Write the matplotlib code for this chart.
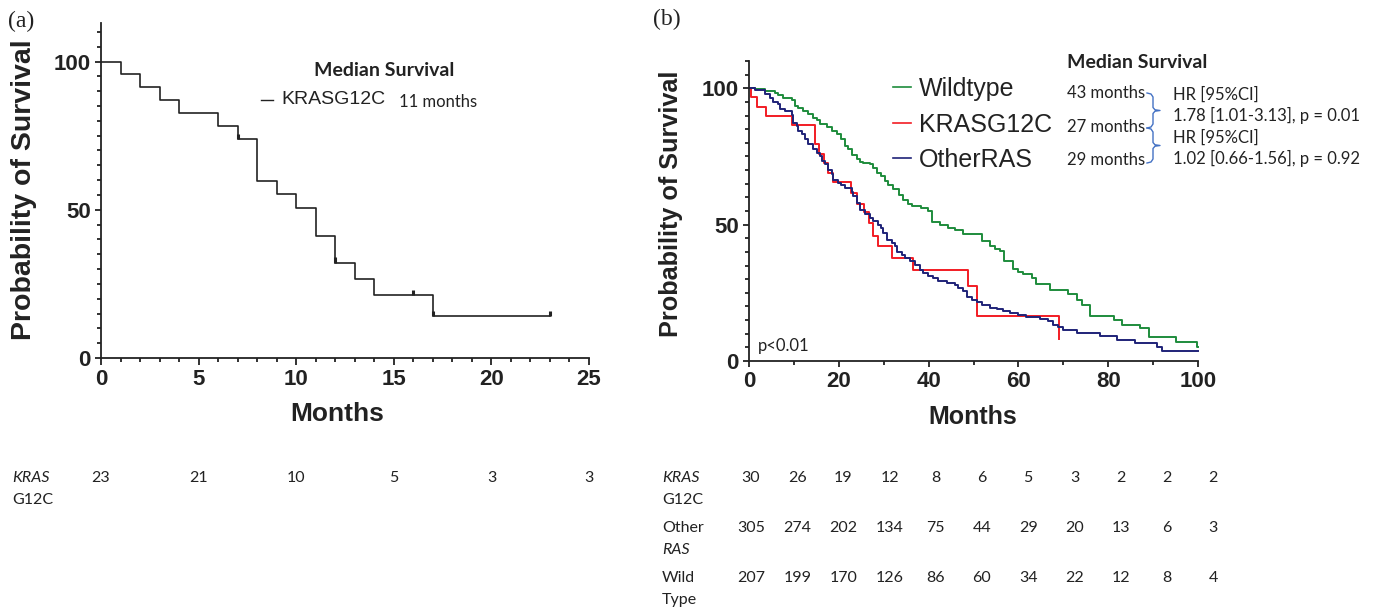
import numpy as np
import matplotlib
matplotlib.use("Agg")
import matplotlib.pyplot as plt
from matplotlib.lines import Line2D
from matplotlib.ticker import MultipleLocator

# ---- data ----
# panel (a): KRAS G12C only (time in months, survival % after the drop)
a_times = [0, 1, 2, 3, 4, 6, 7, 8, 9, 10, 11, 12, 13, 14, 17, 23]
a_surv = [100, 95.7, 91.3, 87.0, 82.6, 78.3, 73.9, 59.8, 55.2, 50.6, 41.3, 32.2, 26.7, 21.3, 14.2, 14.2]
a_censored = [7, 12, 16, 17, 23]
a_risk_times = [0, 5, 10, 15, 20, 25]
a_risk_g12c = [23, 21, 10, 5, 3, 3]

# panel (b)
wt_times = [0, 1.3, 3.6, 5.8, 6.5, 7.6, 9.5, 10.2, 11.0, 12.1, 13.2, 14.3, 15.1, 15.8, 17.3,
            18.4, 19.5, 20.6, 21.4, 22.1, 22.9, 24.0, 24.7, 25.5, 27.0, 27.7, 28.4, 29.5,
            30.3, 31.0, 32.1, 33.3, 34.4, 35.5, 36.2, 38.4, 39.9, 40.7, 42.5, 44.4, 45.9,
            47.7, 51.8, 53.7, 54.8, 55.9, 56.8, 58.9, 60.0, 61.1, 63.0, 64.0, 67.0, 71.1,
            73.0, 74.1, 75.9, 81.2, 83.0, 87.1, 89.0, 95.1, 99.8, 100]
wt_surv = [100, 99.6, 99.0, 98.4, 97.5, 96.6, 95.6, 93.5, 92.6, 91.7, 90.4, 89.2, 88.2, 87.0, 85.8,
           84.3, 83.1, 81.3, 78.8, 77.6, 75.7, 73.9, 73.0, 72.7, 72.1, 70.6, 69.0, 67.8,
           66.0, 64.7, 62.9, 61.0, 59.2, 57.4, 56.7, 56.1, 54.9, 51.0, 49.8, 48.8, 48.0,
           46.6, 43.9, 42.0, 41.1, 40.4, 36.5, 33.8, 32.6, 31.9, 30.4, 28.3, 26.1, 24.6,
           22.2, 20.6, 16.5, 15.1, 13.2, 12.0, 8.9, 7.1, 5.3, 5.3]

g12c_times = [0, 0.45, 1.7, 3.7, 9.5, 14.7, 15.6, 16.8, 17.7, 18.6, 22.7, 24.0, 25.7, 26.7,
              27.7, 28.8, 31.8, 36.6, 48.8, 50.7, 69.0]
g12c_surv = [100, 96.7, 93.3, 90.0, 86.7, 79.4, 76.0, 72.5, 69.0, 65.5, 61.5, 57.5, 54.5, 50.5,
             46.0, 42.0, 37.8, 33.2, 27.6, 16.4, 8.0]

oras_times = [0, 1.3, 3.6, 4.7, 5.4, 6.5, 6.9, 8.0, 9.5, 9.9, 10.6, 11.0, 11.7, 12.5, 13.2,
              14.3, 15.1, 15.8, 16.2, 16.9, 17.7, 18.4, 18.8, 19.9, 20.6, 21.4, 22.9, 23.2,
              24.0, 24.7, 25.8, 26.9, 27.7, 28.8, 29.5, 29.9, 30.7, 31.8, 32.5, 32.9, 34.0,
              34.7, 35.9, 36.9, 38.1, 38.8, 39.9, 41.0, 42.2, 44.0, 45.9, 46.6, 47.7, 48.5,
              49.6, 50.7, 51.8, 53.7, 55.2, 56.6, 58.1, 60.0, 61.8, 64.8, 66.7, 67.8, 68.9,
              70.0, 73.0, 78.2, 81.9, 86.0, 90.8, 91.9, 100]
oras_surv = [100, 99.5, 97.8, 96.6, 95.1, 94.1, 92.3, 91.5, 90.2, 87.4, 86.2, 84.3, 83.1, 81.3, 79.4,
             77.6, 76.4, 75.1, 73.3, 72.1, 70.2, 68.4, 66.5, 65.3, 64.5, 63.3, 62.0, 60.4,
             58.0, 55.5, 53.9, 52.5, 51.2, 50.0, 48.8, 46.9, 44.5, 43.3, 42.0, 39.8, 39.0,
             37.8, 36.5, 35.3, 33.5, 32.2, 31.3, 30.4, 29.2, 28.6, 28.0, 26.7, 25.5, 23.6,
             22.4, 21.6, 20.6, 19.6, 19.0, 18.3, 17.6, 16.9, 16.3, 15.4, 14.5, 13.3, 12.6,
             11.4, 10.3, 9.2, 7.8, 6.5, 5.3, 3.8, 3.8]

b_groups = ["Wildtype", "KRASG12C", "OtherRAS"]
b_colors = ["#1e8c3c", "#f21c24", "#1f2378"]
b_medians = ["43 months", "27 months", "29 months"]
b_hr = ["HR [95%CI]", "1.78 [1.01-3.13], p = 0.01", "HR [95%CI]", "1.02 [0.66-1.56], p = 0.92"]

b_risk_labels = [("KRAS", "G12C"), ("Other", "RAS"), ("Wild", "Type")]
b_risk_italic = [(True, False), (False, True), (False, False)]
b_risk_g12c = [30, 26, 19, 12, 8, 6, 5, 3, 2, 2, 2]
b_risk_oras = [305, 274, 202, 134, 75, 44, 29, 20, 13, 6, 3]
b_risk_wt = [207, 199, 170, 126, 86, 60, 34, 22, 12, 8, 4]

W, H = 1375, 612
SANS = "Liberation Sans"
CAL = "Lato"


def fx(x):
    return x / W


def fy(y):
    return 1 - y / H


def style_axis(ax, xmajor, xminor, xmax, ymax):
    for s in ["top", "right"]:
        ax.spines[s].set_visible(False)
    for s in ["left", "bottom"]:
        ax.spines[s].set_linewidth(1.3)
        ax.spines[s].set_color("#222222")
    ax.set_xlim(0, xmax)
    ax.set_ylim(0, ymax)
    ax.xaxis.set_major_locator(MultipleLocator(xmajor))
    ax.xaxis.set_minor_locator(MultipleLocator(xminor))
    ax.set_yticks([0, 50, 100])
    ax.yaxis.set_minor_locator(MultipleLocator(5))
    ax.tick_params(which="both", direction="out", width=1.3, color="#222222")
    ax.tick_params(which="major", length=4.5, labelsize=16, pad=3)
    ax.tick_params(which="minor", length=3.2)
    for lab in ax.get_xticklabels() + ax.get_yticklabels():
        lab.set_fontfamily(SANS)
        lab.set_fontweight("bold")
        lab.set_color("#222222")


fig = plt.figure(figsize=(W / 100, H / 100), dpi=100)

# ---------------- panel (a) ----------------
ax_a = fig.add_axes([fx(101), fy(358), fx(589) - fx(101), (358 - 23) / H])
a_t = list(a_times)
a_s = list(a_surv)
ax_a.step(a_t, a_s, where="post", color="#222222", lw=1.2, clip_on=False)
cens_a = [a_s[np.searchsorted(a_t, t, side="right") - 1] for t in a_censored]
ax_a.vlines(a_censored, cens_a, np.array(cens_a) + 1.8, color="#222222", lw=2.2)
style_axis(ax_a, 5, 1, 25, 113)
ax_a.tick_params(axis="x", which="major", length=5)

fig.text(fx(24), fy(190), "Probability of Survival", rotation=90, ha="center", va="center",
         fontsize=20.5, fontweight="bold", family=SANS, color="#222222")
fig.text(fx(337), fy(414), "Months", ha="center", va="center",
         fontsize=19, fontweight="bold", family=SANS, color="#222222")
fig.text(fx(21), fy(21), "(a)", ha="center", va="center", fontsize=17,
         family="Liberation Serif", color="#222222")

fig.text(fx(384), fy(71), "Median Survival", ha="center", va="center",
         fontsize=14, fontweight="bold", family=CAL, color="#222222")
fig.add_artist(Line2D([fx(261), fx(273)], [fy(100), fy(100)], color="#222222", lw=1.0))
fig.text(fx(281), fy(100), "KRASG12C", ha="left", va="center", fontsize=14,
         family=SANS, color="#222222")
fig.text(fx(399), fy(102), "11 months", ha="left", va="center", fontsize=12,
         family=CAL, color="#222222")

# number at risk (a)
fig.text(fx(12), fy(478), "KRAS", ha="left", va="center", fontsize=11.5, family=CAL,
         style="italic", color="#222222")
fig.text(fx(12), fy(500), "G12C", ha="left", va="center", fontsize=11.5, family=CAL,
         color="#222222")
for t, n in zip(a_risk_times, a_risk_g12c):
    xpix = 101 + t * 488 / 25
    fig.text(fx(xpix), fy(478), str(n), ha="center", va="center", fontsize=11.5,
             family=CAL, color="#222222")

# ---------------- panel (b) ----------------
ax_b = fig.add_axes([fx(749), fy(361), fx(1198) - fx(749), 300 / H])
for times, surv, col in zip([wt_times, g12c_times, oras_times],
                            [wt_surv, g12c_surv, oras_surv], b_colors):
    ax_b.step(times, surv, where="post", color=col, lw=1.4, clip_on=False)
style_axis(ax_b, 20, 10, 100, 110)

fig.text(fx(671), fy(204), "Probability of Survival", rotation=90, ha="center", va="center",
         fontsize=18.2, fontweight="bold", family=SANS, color="#222222")
fig.text(fx(973), fy(417), "Months", ha="center", va="center",
         fontsize=18, fontweight="bold", family=SANS, color="#222222")
fig.text(fx(667), fy(19), "(b)", ha="center", va="center", fontsize=17,
         family="Liberation Serif", color="#222222")
fig.text(fx(758), fy(346), "p<0.01", ha="left", va="center", fontsize=12,
         family=CAL, color="#222222")

fig.text(fx(1137), fy(62), "Median Survival", ha="center", va="center",
         fontsize=14, fontweight="bold", family=CAL, color="#222222")
legend_y = [87, 123, 158]
median_y = [93, 127, 160]
for name, col, med, ly, my in zip(b_groups, b_colors, b_medians, legend_y, median_y):
    fig.add_artist(Line2D([fx(893), fx(911)], [fy(ly), fy(ly)], color=col, lw=1.2))
    fig.text(fx(919), fy(ly + 9), name, ha="left", va="baseline", fontsize=18,
             family=SANS, color="#222222")
    fig.text(fx(1145), fy(my), med, ha="right", va="center", fontsize=12,
             family=CAL, color="#222222")

hr_y = [95, 115, 138, 158]
for txt, yy in zip(b_hr, hr_y):
    fig.text(fx(1173), fy(yy), txt, ha="left", va="center", fontsize=12,
             family=CAL, color="#222222")


def brace(y_top, y_bot, x0=1147):
    ym = (y_top + y_bot) / 2
    xs = [x0, x0 + 4, x0 + 6, x0 + 6, x0 + 8, x0 + 13, x0 + 8, x0 + 6, x0 + 6, x0 + 4, x0]
    ys = [y_top, y_top + 1, y_top + 4, ym - 3, ym - 0.7, ym, ym + 0.7, ym + 3,
          y_bot - 4, y_bot - 1, y_bot]
    fig.add_artist(Line2D([fx(v) for v in xs], [fy(v) for v in ys],
                          color="#4472c4", lw=1.0))


brace(93, 128)
brace(128, 163)

# number at risk (b)
rows = [b_risk_g12c, b_risk_oras, b_risk_wt]
row_y = [478, 528, 578]
for (l1, l2), (i1, i2), vals, yy in zip(b_risk_labels, b_risk_italic, rows, row_y):
    fig.text(fx(662), fy(yy), l1, ha="left", va="center", fontsize=11.5, family=CAL,
             style="italic" if i1 else "normal", color="#222222")
    fig.text(fx(662), fy(yy + 22), l2, ha="left", va="center", fontsize=11.5, family=CAL,
             style="italic" if i2 else "normal", color="#222222")
    for i, n in enumerate(vals):
        fig.text(fx(751 + i * 46.2), fy(yy), str(n), ha="center", va="center",
                 fontsize=11.5, family=CAL, color="#222222")

fig.savefig("out.png", dpi=100)
